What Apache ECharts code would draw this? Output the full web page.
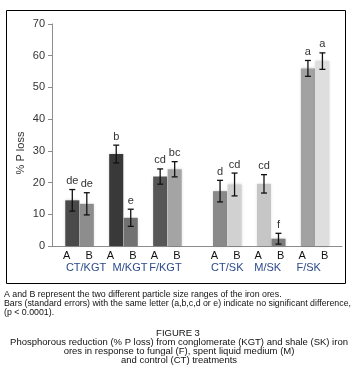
<!DOCTYPE html>
<html>
<head>
<meta charset="utf-8">
<script src="https://cdn.jsdelivr.net/npm/echarts@6/dist/echarts.min.js"></script>
<style>
html, body { margin: 0; padding: 0; background: #fff; }
#chart { width: 356px; height: 391px; }
</style>
</head>
<body>
<div id="chart"></div>
<script>
// data
const groups = ['CT/KGT', 'M/KGT', 'F/KGT', 'CT/SK', 'M/SK', 'F/SK'];
const sizes = ['A', 'B'];
const lossA = [14.4, 29.0, 21.9, 17.3, 19.6, 56.0];
const lossB = [13.3, 8.9, 24.2, 19.4, 2.3, 58.3];
const errA = [3.4, 2.8, 2.4, 3.4, 2.9, 2.5];
const errB = [3.5, 2.7, 2.4, 3.6, 1.7, 2.6];
const letterA = ['de', 'b', 'cd', 'd', 'cd', 'a'];
const letterB = ['de', 'e', 'bc', 'cd', 'f', 'a'];
const yTicks = [0, 10, 20, 30, 40, 50, 60, 70];

const note1 = 'A and B represent the two different particle size ranges of the iron ores.';
const note2 = 'Bars (standard errors) with the same letter (a,b,c,d or e) indicate no significant difference,';
const note3 = '(p < 0.0001).';
const figTitle = 'FIGURE 3';
const caption = [
	'Phosphorous reduction (% P loss) from conglomerate (KGT) and shale (SK) iron',
	'ores in response to fungal (F), spent liquid medium (M)',
	'and control (CT) treatments'
];

// bar fills
const colorsA = ['#4a4a4a', '#393939', '#565656', '#898989', '#c6c6c6', '#a2a2a2'];
const colorsB = ['#8d8d8d', '#727272', '#a4a4a4', '#d1d1d1', '#7c7c7c', '#dedede'];
// label nudges in px (the original text boxes are placed by hand)
const groupLabelShift = [6.5, 6.5, -2, 0, -3.5, -6.5];
const sizeLabelShift = [-13, 9.5];

// group centre on the hidden x value axis, with an extra gap between KGT and SK
const groupX = g => 1.9 + 3.03 * g + (g >= 3 ? 1.1 : 0);

let items = [];
groups.forEach((name, g) => {
	items.push({ value: [groupX(g) - 0.5, lossA[g], errA[g]], g: g, s: 0 });
	items.push({ value: [groupX(g) + 0.5, lossB[g], errB[g]], g: g, s: 1 });
});

const font = 'Arial, "Liberation Sans", sans-serif';

let chart = echarts.init(document.getElementById('chart'));

let option = {
	animation: false,
	grid: { left: 52, right: 14, top: 24, bottom: 145 },
	xAxis: {
		type: 'value',
		min: 0,
		max: 20,
		axisLine: { show: true, onZero: false, lineStyle: { color: '#8c8c8c', width: 1 } },
		axisTick: { show: false },
		axisLabel: { show: false },
		splitLine: { show: false }
	},
	yAxis: {
		type: 'value',
		min: yTicks[0],
		max: yTicks[yTicks.length - 1],
		interval: 10,
		axisLine: { show: true, lineStyle: { color: '#8c8c8c', width: 1 } },
		axisTick: { show: true, inside: false, length: 4, lineStyle: { color: '#8c8c8c' } },
		axisLabel: { color: '#333', fontFamily: font, fontSize: 11, margin: 7 },
		splitLine: { show: false }
	},
	graphic: [
		{ type: 'rect', shape: { x: 6.5, y: 10.5, width: 339, height: 273 }, style: { fill: 'none', stroke: '#000', lineWidth: 1 }, z: 0 },
		{ type: 'text', x: 21, y: 153, rotation: Math.PI / 2, style: { text: '% P loss', font: '11px ' + font, fill: '#333', textAlign: 'center', textVerticalAlign: 'middle' } },
		{ type: 'text', left: 4, top: 290, style: { text: note1, font: '8.8px ' + font, fill: '#111' } },
		{ type: 'text', left: 4, top: 299, style: { text: note2, font: '8.8px ' + font, fill: '#111' } },
		{ type: 'text', left: 4, top: 308, style: { text: note3, font: '8.8px ' + font, fill: '#111' } },
		{ type: 'text', x: 178, y: 333, style: { text: figTitle, font: '9.5px ' + font, fill: '#111', textAlign: 'center', textVerticalAlign: 'middle' } },
		{ type: 'text', x: 179, y: 342.5, style: { text: caption[0], font: '9.5px ' + font, fill: '#111', textAlign: 'center', textVerticalAlign: 'middle' } },
		{ type: 'text', x: 179, y: 351.5, style: { text: caption[1], font: '9.5px ' + font, fill: '#111', textAlign: 'center', textVerticalAlign: 'middle' } },
		{ type: 'text', x: 179, y: 360.5, style: { text: caption[2], font: '9.5px ' + font, fill: '#111', textAlign: 'center', textVerticalAlign: 'middle' } }
	],
	series: [{
		type: 'custom',
		clip: false,
		data: items,
		renderItem: (params, api) => {
			let it = items[params.dataIndex];
			let x = api.value(0), v = api.value(1), e = api.value(2);
			let base = api.coord([x, 0]);
			let top = api.coord([x, v]);
			let hi = api.coord([x, v + e]);
			let lo = api.coord([x, v - e]);
			let w = api.size([0.97, 0])[0];
			let c = api.coord([groupX(it.g), 0]);
			let children = [
				{
					type: 'rect',
					shape: { x: base[0] - w / 2, y: top[1], width: w, height: base[1] - top[1] },
					style: { fill: it.s === 0 ? colorsA[it.g] : colorsB[it.g], shadowBlur: 3, shadowColor: 'rgba(0,0,0,0.18)' }
				},
				{ type: 'line', shape: { x1: hi[0], y1: hi[1], x2: lo[0], y2: lo[1] }, style: { stroke: '#111', lineWidth: 1.3 } },
				{ type: 'line', shape: { x1: hi[0] - 3, y1: hi[1], x2: hi[0] + 3, y2: hi[1] }, style: { stroke: '#111', lineWidth: 1.3 } },
				{ type: 'line', shape: { x1: lo[0] - 3, y1: lo[1], x2: lo[0] + 3, y2: lo[1] }, style: { stroke: '#111', lineWidth: 1.3 } },
				{
					type: 'text',
					style: {
						x: hi[0], y: hi[1] - 3,
						text: it.s === 0 ? letterA[it.g] : letterB[it.g],
						font: '11px ' + font, fill: '#333', textAlign: 'center', textVerticalAlign: 'bottom'
					}
				},
				{
					type: 'text',
					style: {
						x: c[0] + sizeLabelShift[it.s], y: base[1] + 10,
						text: sizes[it.s],
						font: '11px ' + font, fill: '#111', textAlign: 'center', textVerticalAlign: 'middle'
					}
				}
			];
			if (it.s === 0) {
				children.push({
					type: 'text',
					style: {
						x: c[0] + groupLabelShift[it.g], y: base[1] + 22,
						text: groups[it.g],
						font: '11px ' + font, fill: '#2b4a8a', textAlign: 'center', textVerticalAlign: 'middle'
					}
				});
			}
			return { type: 'group', children: children };
		}
	}]
};

chart.setOption(option);
</script>
</body>
</html>
